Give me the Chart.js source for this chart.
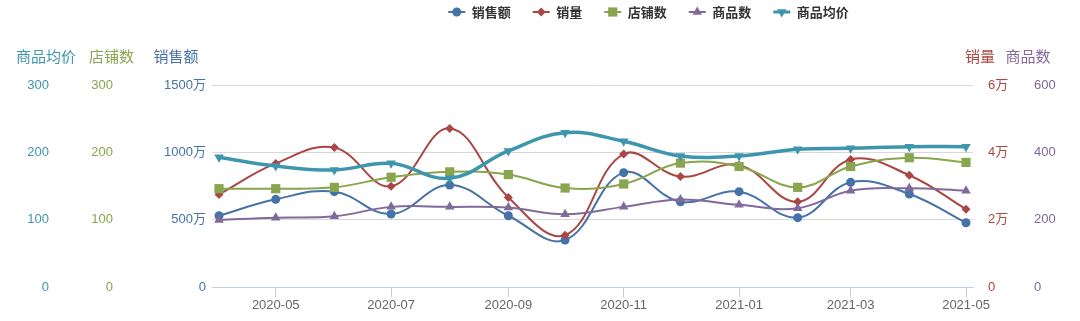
<!DOCTYPE html>
<html><head><meta charset="utf-8">
<script src="https://cdn.jsdelivr.net/npm/chart.js@4.4.1/dist/chart.umd.min.js"></script>
<style>html,body{margin:0;padding:0;background:#fff;}canvas{display:block}</style>
</head><body>
<canvas id="c" width="1080" height="321"></canvas>
<script>
// ---- data ----
const months = ['2020-04','2020-05','2020-06','2020-07','2020-08','2020-09','2020-10','2020-11','2020-12','2021-01','2021-02','2021-03','2021-04','2021-05'];
const salesAmount = [5290000,6510000,7080000,5420000,7570000,5290000,3490000,8490000,6330000,7080000,5150000,7770000,6910000,4770000];
const salesVolume = [27500,36700,41400,29900,47100,26600,15400,39500,32800,36200,25300,37900,33200,23100];
const shopCount = [146,146,148,163,171,167,147,153,184,179,148,179,192,185];
const productCount = [199,206,210,238,238,236,216,238,260,244,234,286,293,286];
const avgPrice = [192.6,179.7,173.8,183.7,161.4,202,229.2,216.4,194.6,194.6,204.5,206,208.4,208.4];
const xTickLabels = ['2020-05','2020-07','2020-09','2020-11','2021-01','2021-03','2021-05'];
const seriesNames = ['销售额','销量','店铺数','商品数','商品均价'];

const FONT = '"Liberation Sans","Noto Sans CJK SC",sans-serif';
const C = {sales:'#4572A7', vol:'#AA4643', shop:'#89A54E', prod:'#80699B', price:'#3D96AE'};

function dayOf(m){const [y,mo]=m.split('-').map(Number);return (Date.UTC(y,mo-1,1)-Date.UTC(2020,3,1))/86400000;}
const pts = arr => arr.map((v,i)=>({x:dayOf(months[i]), y:v}));
const xTickVals = xTickLabels.map(dayOf);

function wan(v){return v===0?'0':(v/10000)+'万';}

const overlay = {
  id:'overlay',
  afterDraw(chart, args, o){
    const ctx = chart.ctx;
    ctx.save();
    ctx.textBaseline='middle';
    // axis titles
    ctx.font = '15px '+FONT;
    ctx.textAlign='center';
    o.titles.forEach(t=>{
      ctx.fillStyle = chart.options.scales[t.axis].ticks.color;
      ctx.fillText(chart.data.datasets[t.ds].label, t.x, o.titleY);
    });
    // legend
    ctx.font = 'bold 13px '+FONT;
    const dsList = chart.data.datasets;
    const symW = 17, gap = 6.5, pad = 22;
    const widths = dsList.map(d=>symW+gap+ctx.measureText(d.label).width);
    const total = widths.reduce((a,b)=>a+b,0)+pad*(dsList.length-1);
    let x = o.legendX - total/2;
    const y = o.legendY;
    dsList.forEach((d,i)=>{
      ctx.strokeStyle = d.borderColor; ctx.lineWidth = Math.min(d.borderWidth,3);
      ctx.beginPath(); ctx.moveTo(x,y); ctx.lineTo(x+symW,y); ctx.stroke();
      ctx.fillStyle = d.borderColor;
      Chart.helpers.drawPoint(ctx,{pointStyle:d.pointStyle,radius:d.pointRadius,rotation:d.pointRotation||0,borderWidth:0},x+symW/2,y);
      ctx.fillStyle='#333'; ctx.textAlign='left';
      ctx.fillText(d.label, x+symW+gap, y+1);
      x += widths[i]+pad;
    });
    ctx.restore();
  }
};

function ds(label,data,color,axis,style,r,order,bw,rot){
  return {label,data:pts(data),borderColor:color,backgroundColor:color,yAxisID:axis,pointStyle:style,
    pointRadius:r,pointHoverRadius:r,pointBorderWidth:0,pointBackgroundColor:color,pointRotation:rot||0,
    borderWidth:bw,tension:0.4,order,fill:false};
}

const fixW = w => (s=>{s.width=w;});
const yTick = (color,pad,cb)=>({color,padding:pad,font:{size:13,family:FONT},callback:cb});

new Chart(document.getElementById('c'),{
  type:'line',
  data:{datasets:[
    ds(seriesNames[0],salesAmount,C.sales,'ySales','circle',4.5,5,2),
    ds(seriesNames[1],salesVolume,C.vol,'yVol','rectRot',4.5,4,2),
    ds(seriesNames[2],shopCount,C.shop,'yShop','rect',6.5,3,2),
    ds(seriesNames[3],productCount,C.prod,'yProd','triangle',5.5,2,2),
    ds(seriesNames[4],avgPrice,C.price,'yPrice','triangle',5.5,1,3.5,180)
  ]},
  options:{
    responsive:false, animation:false, devicePixelRatio:1,
    layout:{padding:{top:85,left:0,right:0,bottom:0}},
    plugins:{legend:{display:false},tooltip:{enabled:false},
      overlay:{legendX:648.5,legendY:12,titleY:58,titles:[
        {axis:'yPrice',ds:4,x:46},{axis:'yShop',ds:2,x:111.5},{axis:'ySales',ds:0,x:176},
        {axis:'yVol',ds:1,x:980},{axis:'yProd',ds:3,x:1028}]}},
    scales:{
      x:{type:'linear',position:'bottom',min:-3.7,max:398.7,
        afterBuildTicks:s=>{s.ticks=xTickVals.map(v=>({value:v}));},
        afterFit:s=>{s.height=34;},
        ticks:{color:'#666',padding:1,maxRotation:0,autoSkip:false,font:{size:13,family:FONT},
          callback:v=>xTickLabels[xTickVals.indexOf(v)]},
        grid:{display:true,drawOnChartArea:false,drawTicks:true,tickLength:10,color:'#C0D0E0'},
        border:{display:true,color:'#C0D0E0',width:1}},
      ySales:{position:'left',weight:0,min:0,max:15000000,afterFit:fixW(82),
        ticks:{...yTick(C.sales,6,wan),stepSize:5000000},
        grid:{color:'#D8D8D8',drawTicks:false},border:{display:false}},
      yShop:{position:'left',weight:1,min:0,max:300,afterFit:fixW(65),
        ticks:{...yTick(C.shop,9),stepSize:100},grid:{display:false},border:{display:false}},
      yPrice:{position:'left',weight:2,min:0,max:300,afterFit:fixW(65),
        ticks:{...yTick(C.price,8),stepSize:100},grid:{display:false},border:{display:false}},
      yVol:{position:'right',weight:0,min:0,max:60000,afterFit:fixW(47),
        ticks:{...yTick(C.vol,7,wan),stepSize:20000},grid:{display:false},border:{display:false}},
      yProd:{position:'right',weight:1,min:0,max:600,afterFit:fixW(60),
        ticks:{...yTick(C.prod,6),stepSize:200},grid:{display:false},border:{display:false}}
    }
  },
  plugins:[overlay]
});
</script>
</body></html>
